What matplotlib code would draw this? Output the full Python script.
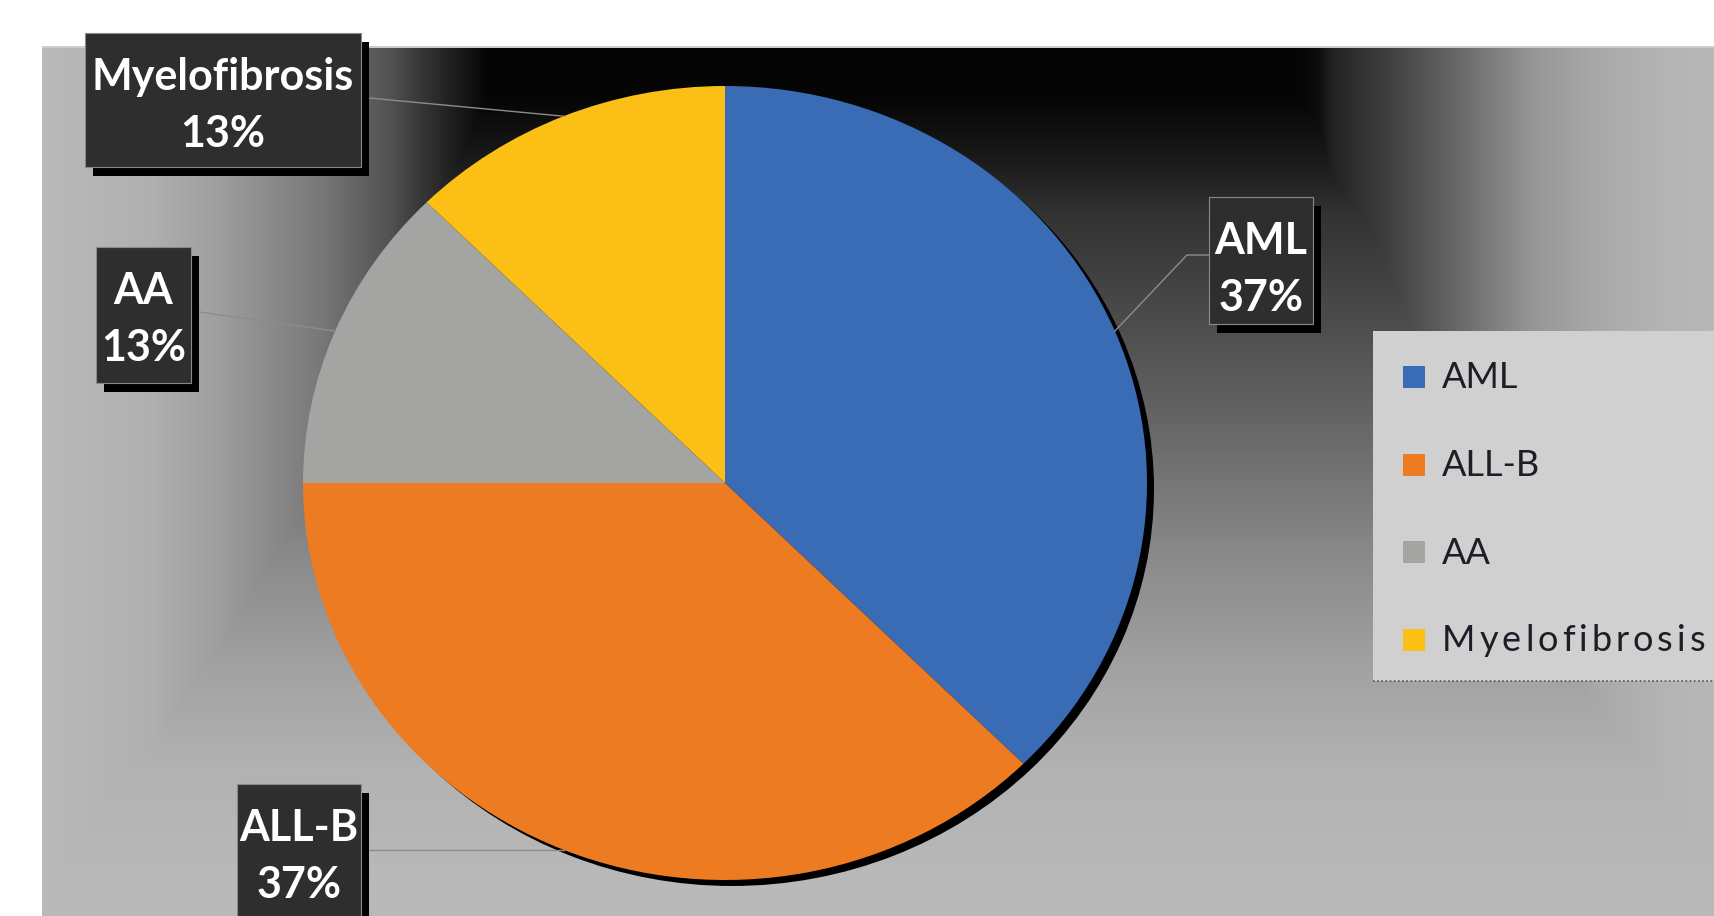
"""Pie chart of diagnosis distribution, Excel-style dark gradient background."""

import numpy as np
import matplotlib
matplotlib.use("Agg")
import matplotlib.pyplot as plt
from matplotlib.patches import Rectangle

plt.rcParams["font.family"] = ["Lato", "DejaVu Sans"]

CATEGORIES = ["AML", "ALL-B", "AA", "Myelofibrosis"]
SHARES = [37.5, 37.5, 12.5, 12.5]
PCT_LABELS = ["37%", "37%", "13%", "13%"]
COLORS = ["#3a6bb5", "#ed7b22", "#a4a4a3", "#fcbf15"]

W, H = 1715, 916
PIE_CX, PIE_CY, PIE_RX, PIE_RY = 725, 483, 422, 397

# label boxes in pixels: (left, top, right, bottom)
BOXES = {
    "AML": (1209, 197, 1313, 324),
    "ALL-B": (237, 784, 361, 945),
    "AA": (96, 247, 191, 383),
    "Myelofibrosis": (85, 33, 361, 167),
}
# extra letter spacing (px) seen in the legend text
TRACKING = {"Myelofibrosis": 4.0}


def background():
    x = np.arange(W) + 0.5
    y = np.arange(H) + 0.5
    left, top = 42, 46
    # grey level profiles of the rectangular gradient
    fl = np.interp(x, [42, 150, 214, 321, 393, 421, 460, 487, 1300, 1320, 1333,
                       1400, 1467, 1533, 1600, 1667, 1715],
                   [186, 176, 160, 120, 80, 55, 25, 5, 5, 15, 35,
                    70, 110, 150, 170, 180, 184])
    fy = np.interp(y, [46, 100, 157, 213, 324, 435, 546, 657, 768, 879, 916],
                   [5, 6, 25, 50, 77, 105, 135, 160, 178, 185, 186])
    v = np.maximum(fl[None, :], fy[:, None]) / 255.0
    img = np.dstack([v, v, v])
    img[:top, :, :] = 1.0
    img[:, :left, :] = 1.0
    img[top:top + 2, left:, :] = 0.80
    return img


fig = plt.figure(figsize=(W / 100, H / 100), dpi=100)

bg = fig.add_axes([0, 0, 1, 1])
bg.imshow(background(), extent=(0, W, H, 0), aspect="auto", interpolation="bilinear")
bg.set_xlim(0, W)
bg.set_ylim(H, 0)
bg.axis("off")

pax = fig.add_axes([(PIE_CX - PIE_RX) / W, (H - PIE_CY - PIE_RY) / H,
                    2 * PIE_RX / W, 2 * PIE_RY / H])
shadow, _ = pax.pie([sum(SHARES)], colors=["black"], radius=1,
                    center=(7 / PIE_RX, -6 / PIE_RY))
wedges, _ = pax.pie(SHARES, colors=COLORS, startangle=90, counterclock=False,
                    radius=1, wedgeprops=dict(linewidth=0))
for w in list(shadow) + list(wedges):
    w.set_clip_on(False)
pax.set_aspect("auto")
pax.set_xlim(-1, 1)
pax.set_ylim(-1, 1)
pax.axis("off")

ov = fig.add_axes([0, 0, 1, 1])
ov.set_xlim(0, W)
ov.set_ylim(H, 0)
ov.axis("off")
ov.patch.set_alpha(0)


def edge_point(wedge):
    mid = np.deg2rad((wedge.theta1 + wedge.theta2) / 2)
    return PIE_CX + PIE_RX * np.cos(mid), PIE_CY - PIE_RY * np.sin(mid)


# leader lines
lc = dict(color="#8c8c8c", lw=1.0, zorder=1)
for name, wedge in zip(CATEGORIES, wedges):
    ex, ey = edge_point(wedge)
    l, t, r, b = BOXES[name]
    if name == "AML":
        ov.plot([l, l - 22, ex], [255, 255, ey], **lc)
    elif name == "ALL-B":
        ov.plot([r + 8, ex], [ey, ey], **lc)
    elif name == "AA":
        ov.plot([r + 8, ex], [312, ey], **lc)
    else:
        ov.plot([r + 8, ex], [98, ey], **lc)

# data labels
for name, pct in zip(CATEGORIES, PCT_LABELS):
    l, t, r, b = BOXES[name]
    ov.add_patch(Rectangle((l + 8, t + 9), r - l, b - t, facecolor="black",
                           edgecolor="none", zorder=2))
    ov.add_patch(Rectangle((l, t), r - l, b - t, facecolor="#2e2e2e",
                           edgecolor="#8a8a8a", lw=0.8, zorder=3))
    ov.text((l + r) / 2, t + 44, name, color="white", fontsize=31,
            fontweight="bold", ha="center", va="center", zorder=4)
    ov.text((l + r) / 2, t + 101, pct, color="white", fontsize=31,
            fontweight="bold", ha="center", va="center", zorder=4)

# legend
ov.add_patch(Rectangle((1373, 331), 400, 350, facecolor="#d0d0d0",
                       edgecolor="none", zorder=2))
ov.plot([1373, W], [681, 681], color="#555555", lw=1.2, ls=(0, (1, 1.5)), zorder=3)
renderer = fig.canvas.get_renderer()
for i, (name, c) in enumerate(zip(CATEGORIES, COLORS)):
    yc = 377 + i * 87.5
    ov.add_patch(Rectangle((1403, yc - 11), 22, 22, facecolor=c,
                           edgecolor="none", zorder=3))
    gap = TRACKING.get(name, 0.0)
    if gap == 0:
        ov.text(1442, yc + 1, name, color="#1e1e28", fontsize=26,
                ha="left", va="center", zorder=4)
        continue
    xpos = 1442.0
    for ch in name:
        txt = ov.text(xpos, yc + 1, ch, color="#1e1e28", fontsize=26,
                      ha="left", va="center", zorder=4)
        xpos += txt.get_window_extent(renderer).width + gap

fig.savefig("out.png", dpi=100)
